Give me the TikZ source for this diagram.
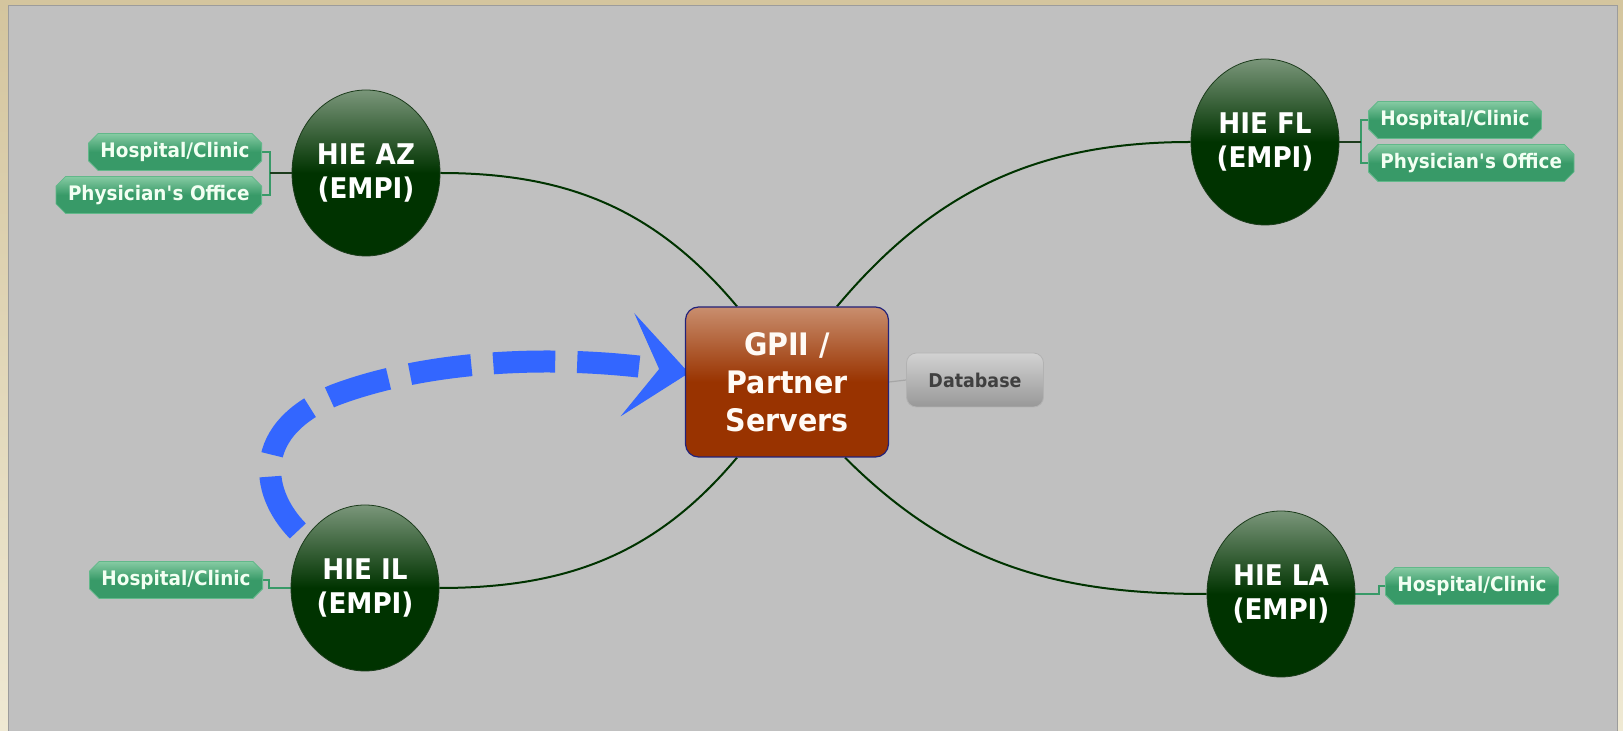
\documentclass[tikz,border=0pt]{standalone}
\usepackage{fontspec}
\setmainfont{DejaVu Sans}[FakeStretch=0.92]
\usetikzlibrary{shapes.geometric,shapes.misc,arrows.meta,calc}

\definecolor{frametop}{HTML}{D4C59E}
\definecolor{framebot}{HTML}{EFE9D3}
\definecolor{canvas}{HTML}{C0C0C0}
\definecolor{canvasline}{HTML}{9C9C9C}
\definecolor{hietop}{HTML}{7A967A}
\definecolor{hiedark}{HTML}{003300}
\definecolor{hieline}{HTML}{1C3C1C}
\definecolor{hubtop}{HTML}{C98E6E}
\definecolor{hubdark}{HTML}{993300}
\definecolor{hubline}{HTML}{22227A}
\definecolor{leaftop}{HTML}{86CBA3}
\definecolor{leafgreen}{HTML}{389A68}
\definecolor{leafline}{HTML}{62B88A}
\definecolor{storetop}{HTML}{D2D2D2}
\definecolor{storebot}{HTML}{989898}
\definecolor{flowblue}{HTML}{3366FF}

\pgfdeclarelayer{bg}
\pgfsetlayers{bg,main}

\tikzset{
  hie/.style={ellipse, draw=hieline, line width=0.8pt,
    top color=hietop, bottom color=hiedark, middle color=hiedark,
    minimum width=148pt, minimum height=166pt, inner sep=0pt,
    text=white, align=center, font=\bfseries\fontsize{28.5}{34}\selectfont},
  hub/.style={rectangle, rounded corners=13pt, draw=hubline, line width=1.2pt,
    top color=hubtop, bottom color=hubdark, middle color=hubdark,
    minimum width=203pt, minimum height=150pt, inner sep=0pt,
    text=white!96!orange, align=center, font=\bfseries\fontsize{31}{38}\selectfont},
  store/.style={rectangle, rounded corners=10pt, draw=storetop!85!black, line width=0.8pt,
    top color=storetop, bottom color=storebot,
    minimum width=137pt, minimum height=54pt, inner sep=0pt,
    text=black!75, font=\bfseries\fontsize{19}{22}\selectfont},
  leaf/.style={chamfered rectangle, chamfered rectangle xsep=6pt,
    draw=leafline, line width=0.8pt,
    top color=leaftop, bottom color=leafgreen, middle color=leafgreen,
    minimum height=37pt, inner xsep=6pt, inner ysep=0pt,
    text=white!95!green, font=\bfseries\fontsize{20}{24}\selectfont},
  branch/.style={draw=hiedark, line width=2pt},
  twig/.style={draw=leafgreen, line width=1.2pt},
  stem/.style={draw=hieline, line width=1.6pt},
  dbline/.style={draw=black!35, line width=1.2pt},
  flow/.style={draw=flowblue, line width=22pt,
    dash pattern=on 62pt off 22pt, dash phase=64pt},
  flowhead/.style={draw=flowblue, line width=1pt,
    -{Stealth[length=62pt,width=104pt,inset=32pt]}}
}

\begin{document}
\begin{tikzpicture}[x=1pt,y=1pt]
  \useasboundingbox (0,0) rectangle (1623,731);
  % the hub and its store
  \node[hub] (gpii) at (787,349) {GPII /\\Partner\\Servers};
  \node[store] (db) at (975,351) {Database};
  % the four exchanges
  \node[hie] (az) at (366,558) {HIE AZ\\(EMPI)};
  \node[hie] (fl) at (1265,589) {HIE FL\\(EMPI)};
  \node[hie] (il) at (365,143) {HIE IL\\(EMPI)};
  \node[hie] (la) at (1281,137) {HIE LA\\(EMPI)};
  % their members
  \node[leaf,anchor=east] (azh) at (262,579) {Hospital/Clinic};
  \node[leaf,anchor=east] (azp) at (262,536) {Physician\textquotesingle s Office};
  \node[leaf,anchor=west] (flh) at (1368,611) {Hospital/Clinic};
  \node[leaf,anchor=west] (flp) at (1368,568) {Physician\textquotesingle s Office};
  \node[leaf,anchor=east] (ilh) at (263,151) {Hospital/Clinic};
  \node[leaf,anchor=west] (lah) at (1385,145) {Hospital/Clinic};
  \coordinate (azfork) at (270,558);
  \coordinate (flfork) at (1361,589);
  \coordinate (flowtip) at ($(gpii.west)+(4,9)$);
  \coordinate (flownotch) at ($(flowtip)+(-30,4)$);

  \begin{pgfonlayer}{bg}
    \shade[top color=frametop,bottom color=framebot] (0,0) rectangle (1623,731);
    \draw[fill=canvas,draw=canvasline] (8,-2) rectangle (1617,726);
    % branches to the hub
    \draw[branch] (az.east) to[out=0,in=130] ($(gpii.north)+(-50,0)$);
    \draw[branch] ($(gpii.north)+(50,0)$) to[out=50,in=180] (fl.west);
    \draw[branch] ($(gpii.south)+(-50,0)$) to[out=-130,in=0] (il.east);
    \draw[branch] ($(gpii.south)+(58,0)$) to[out=-45,in=180] (la.west);
    \draw[dbline] (gpii.east) -- (db.west);
    % members
    \draw[twig] (azh.east) -| (azfork) |- (azp.east);
    \draw[stem] (azfork) -- (az.west);
    \draw[twig] (flh.west) -| (flfork) |- (flp.west);
    \draw[stem] (flfork) -- (fl.east);
    \draw[twig] (ilh.east) -- ++(6,0) |- (il.west);
    \draw[twig] (lah.west) -- ++(-6,0) |- (la.east);
    % IL moves up to the hub (dashes laid from the head back)
    \draw[flow] (flownotch) .. controls (540,378) and (420,368) .. (335,336)
      .. controls (243,298) and (264,228) .. (il.140);
    \draw[flowhead] (flownotch) -- (flowtip);
  \end{pgfonlayer}
\end{tikzpicture}
\end{document}
